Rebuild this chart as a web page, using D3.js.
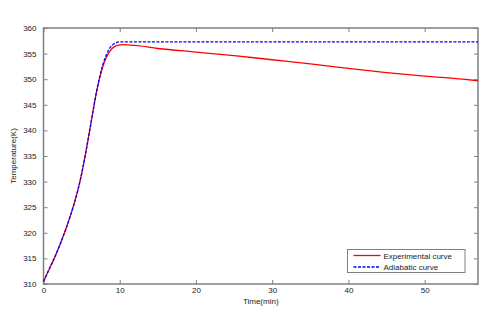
<!DOCTYPE html>
<html>
<head>
<meta charset="utf-8">
<script src="https://cdn.jsdelivr.net/npm/d3@7"></script>
<style>
  body { margin: 0; background: #fff; }
  svg { display: block; font-family: "Liberation Sans", Arial, sans-serif; }
</style>
</head>
<body>
<div id="chart"></div>
<script>
// values
let expTime = [0, 0.5, 1, 1.5, 2, 2.5, 3, 3.5, 4, 4.5, 5, 5.5, 6, 6.5, 7, 7.5, 8, 8.5, 9, 9.5, 10, 10.5, 11, 12, 15, 20, 25, 30, 35, 40, 45, 50, 55, 57];
let expTemp = [310.5, 312.1, 313.7, 315.3, 317.1, 319.0, 321.0, 323.2, 325.6, 328.3, 331.5, 335.3, 339.5, 343.8, 347.8, 351.0, 353.4, 355.0, 356.0, 356.5, 356.7, 356.75, 356.7, 356.6, 356.0, 355.3, 354.6, 353.8, 353.0, 352.1, 351.3, 350.6, 350.0, 349.7];

let adiTime = [0, 0.5, 1, 1.5, 2, 2.5, 3, 3.5, 4, 4.5, 5, 5.5, 6, 6.5, 7, 7.5, 8, 8.5, 9, 9.5, 10, 10.5, 11, 15, 20, 30, 40, 50, 57];
let adiTemp = [310.5, 312.1, 313.7, 315.3, 317.1, 319.0, 321.0, 323.2, 325.6, 328.3, 331.5, 335.3, 339.5, 343.8, 347.9, 351.3, 353.8, 355.6, 356.6, 357.1, 357.3, 357.3, 357.3, 357.3, 357.3, 357.3, 357.3, 357.3, 357.3];

let xTicks = [0, 10, 20, 30, 40, 50];
let yTicks = [310, 315, 320, 325, 330, 335, 340, 345, 350, 355, 360];

let seriesNames = ["Experimental curve", "Adiabatic curve"];
let xLabel = "Time(min)";
let yLabel = "Temperature(K)";

let svgWidth = 500;
let svgHeight = 313;
let margin = { top: 28, right: 22, bottom: 29, left: 43.5 };
let innerW = svgWidth - margin.left - margin.right;
let innerH = svgHeight - margin.top - margin.bottom;

let svg = d3.select('#chart')
  .append('svg')
  .attr('width', svgWidth)
  .attr('height', svgHeight);

let x = d3.scaleLinear().domain([0, 57]).range([margin.left, margin.left + innerW]);
let y = d3.scaleLinear().domain([310, 360]).range([margin.top + innerH, margin.top]);

let axisColor = '#808080';
let tickLen = 4;

// box
svg.append('rect')
  .attr('x', x(0)).attr('y', y(360))
  .attr('width', x(57) - x(0)).attr('height', y(310) - y(360))
  .attr('fill', 'none').attr('stroke', axisColor).attr('stroke-width', 1.5);

// ticks on all four sides
let axBottom = svg.append('g').attr('transform', `translate(0,${y(310)})`)
  .call(d3.axisBottom(x).tickValues(xTicks).tickSizeInner(-tickLen).tickSizeOuter(0).tickPadding(3));
let axTop = svg.append('g').attr('transform', `translate(0,${y(360)})`)
  .call(d3.axisTop(x).tickValues(xTicks).tickSizeInner(-tickLen).tickSizeOuter(0).tickFormat(''));
let axLeft = svg.append('g').attr('transform', `translate(${x(0)},0)`)
  .call(d3.axisLeft(y).tickValues(yTicks).tickSizeInner(-tickLen).tickSizeOuter(0).tickPadding(7));
let axRight = svg.append('g').attr('transform', `translate(${x(57)},0)`)
  .call(d3.axisRight(y).tickValues(yTicks).tickSizeInner(-tickLen).tickSizeOuter(0).tickFormat(''));

[axBottom, axTop, axLeft, axRight].forEach(function (g) {
  g.select('.domain').remove();
  g.selectAll('line').attr('stroke', axisColor);
  g.selectAll('text').attr('fill', '#222').style('font-size', '8px').style('font-family', '"Liberation Sans", Arial, sans-serif');
});

// curves
let expData = expTime.map(function (t, i) { return [t, expTemp[i]]; });
let adiData = adiTime.map(function (t, i) { return [t, adiTemp[i]]; });

let line = d3.line()
  .x(function (d) { return x(d[0]); })
  .y(function (d) { return y(d[1]); })
  .curve(d3.curveMonotoneX);

svg.append('path').datum(expData)
  .attr('d', line).attr('fill', 'none')
  .attr('stroke', '#ff0000').attr('stroke-width', 1.3);

svg.append('path').datum(adiData)
  .attr('d', line).attr('fill', 'none')
  .attr('stroke', '#0000ff').attr('stroke-width', 1.3)
  .attr('stroke-dasharray', '3,1.5');

// axis titles
svg.append('text')
  .attr('x', (x(0) + x(57)) / 2).attr('y', 304)
  .attr('text-anchor', 'middle')
  .style('font-size', '8px').attr('fill', '#222')
  .text(xLabel);

svg.append('text')
  .attr('transform', `translate(16,${(y(310) + y(360)) / 2}) rotate(-90)`)
  .attr('text-anchor', 'middle')
  .style('font-size', '8px').attr('fill', '#222')
  .text(yLabel);

// legend
let lg = svg.append('g').attr('transform', 'translate(347.5,249.5)');
lg.append('rect')
  .attr('width', 117.5).attr('height', 23)
  .attr('fill', '#fff').attr('stroke', axisColor).attr('stroke-width', 1);

let legendColors = ['#ff0000', '#0000ff'];
let legendDash = [null, '3,1.5'];
seriesNames.forEach(function (name, i) {
  let yy = 6 + i * 11.5;
  lg.append('line')
    .attr('x1', 6).attr('x2', 33).attr('y1', yy).attr('y2', yy)
    .attr('stroke', legendColors[i]).attr('stroke-width', 1.3)
    .attr('stroke-dasharray', legendDash[i]);
  lg.append('text')
    .attr('x', 36).attr('y', yy + 3)
    .style('font-size', '8px').attr('fill', '#222')
    .text(name);
});
</script>
</body>
</html>
